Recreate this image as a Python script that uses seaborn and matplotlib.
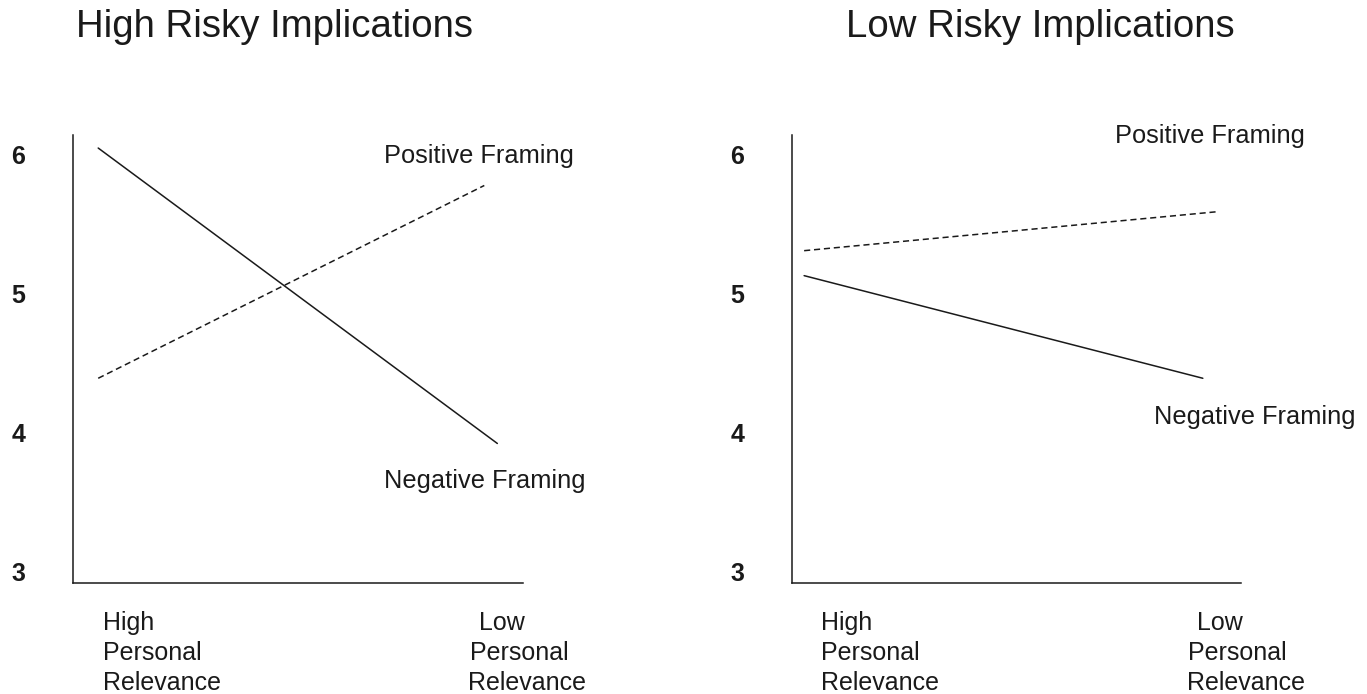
import matplotlib
matplotlib.use("Agg")
import matplotlib.pyplot as plt
import seaborn as sns
import pandas as pd

# ---------------- data ----------------
panel_titles = ["High Risky Implications", "Low Risky Implications"]
series_names = ["Positive Framing", "Negative Framing"]
# relative position along the relevance axis (0 = high relevance side, 1 = low relevance side)
high_pos_x = [0.056, 0.914]
high_pos_y = [4.39, 5.78]
high_neg_x = [0.056, 0.943]
high_neg_y = [6.05, 3.92]
low_pos_x = [0.027, 0.944]
low_pos_y = [5.31, 5.59]
low_neg_x = [0.027, 0.915]
low_neg_y = [5.13, 4.39]
y_ticks = [3, 4, 5, 6]
x_label_high = ["High", "Personal", "Relevance"]
x_label_low = ["Low", "Personal", "Relevance"]

def make_df(px, py, nx, ny):
    return pd.DataFrame({
        "x": list(px) + list(nx),
        "score": list(py) + list(ny),
        "framing": [series_names[0]] * len(px) + [series_names[1]] * len(nx),
    })

dfs = [make_df(high_pos_x, high_pos_y, high_neg_x, high_neg_y),
       make_df(low_pos_x, low_pos_y, low_neg_x, low_neg_y)]

# ---------------- style ----------------
sns.set_theme(style="white")
plt.rcParams["font.family"] = ["Liberation Sans", "DejaVu Sans"]

W, H = 1367, 694
fig = plt.figure(figsize=(W / 100, H / 100), dpi=100)

def fx(px):
    return px / W

def fy(py):
    return 1 - py / H

axes_px = [(73, 135, 523, 583), (792, 135, 1241, 583)]
ylim = (2.914, 6.144)

for i, (l, t, r, b) in enumerate(axes_px):
    ax = fig.add_axes([fx(l), fy(b), (r - l) / W, (b - t) / H])
    sns.lineplot(data=dfs[i], x="x", y="score", style="framing",
                 dashes={series_names[0]: (4, 2.5), series_names[1]: ""},
                 color="#1a1a1a", linewidth=1.1, legend=False, ax=ax)
    ax.set_xlim(0, 1)
    ax.set_ylim(*ylim)
    ax.set_yticks(y_ticks)
    ax.set_yticklabels([str(v) for v in y_ticks], fontsize=18, fontweight="bold", color="#1a1a1a")
    ax.set_xticks([])
    ax.tick_params(axis="y", length=0, pad=34.5)
    ax.set_xlabel("")
    ax.set_ylabel("")
    for side in ["top", "right"]:
        ax.spines[side].set_visible(False)
    for side in ["left", "bottom"]:
        ax.spines[side].set_color("#1a1a1a")
        ax.spines[side].set_linewidth(1.1)
    ax.patch.set_alpha(0)

txt_kw = dict(color="#1a1a1a", va="baseline", ha="left")

# titles
fig.text(fx(76), fy(37), panel_titles[0], fontsize=27.6, **txt_kw)
fig.text(fx(846), fy(37), panel_titles[1], fontsize=27.6, **txt_kw)

# series labels
fig.text(fx(384), fy(163), series_names[0], fontsize=18.3, **txt_kw)
fig.text(fx(384), fy(488), series_names[1], fontsize=18.3, **txt_kw)
fig.text(fx(1115), fy(143), series_names[0], fontsize=18.3, **txt_kw)
fig.text(fx(1154), fy(424), series_names[1], fontsize=18.3, **txt_kw)

# category labels (one text per line)
baselines = [630, 660, 690]
high_left = [[103, 103, 103], [821, 821, 821]]
low_left = [[479, 470, 468], [1197, 1188, 1187]]
for p in range(2):
    for k in range(3):
        fig.text(fx(high_left[p][k]), fy(baselines[k]), x_label_high[k], fontsize=18, **txt_kw)
        fig.text(fx(low_left[p][k]), fy(baselines[k]), x_label_low[k], fontsize=18, **txt_kw)

fig.savefig("out.png", dpi=100, facecolor="white")
